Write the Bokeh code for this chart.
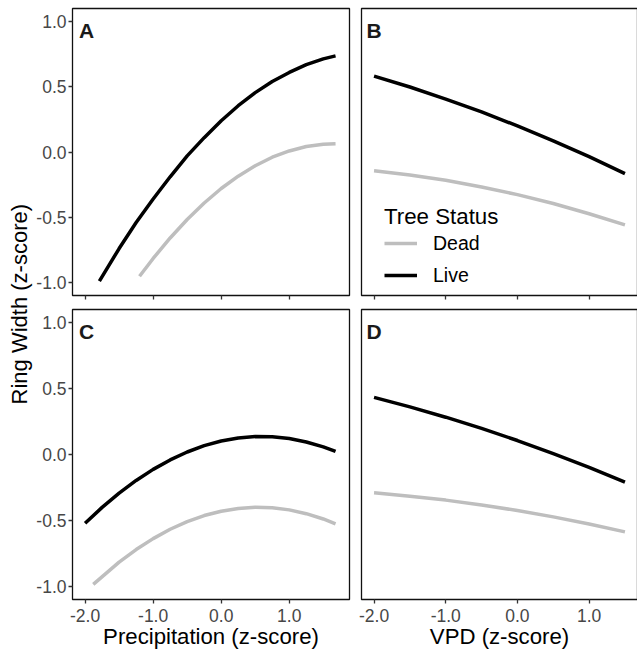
import math
from bokeh.plotting import figure
from bokeh.models import Range1d, FixedTicker, PrintfTickFormatter, Label, Legend, LegendItem
from bokeh.layouts import row, column
from bokeh.embed import file_html
from bokeh.resources import INLINE

FONT = "Liberation Sans"
LIVE_COLOR = "#000000"
DEAD_COLOR = "#BEBEBE"

# ---------------- data ----------------
status_labels = ["Dead", "Live"]
legend_title = "Tree Status"
panel_letters = ["A", "B", "C", "D"]

# Panel A: precipitation
A_live_x = [-1.79, -1.5, -1.25, -1.0, -0.75, -0.5, -0.25, 0.0, 0.25, 0.5, 0.75, 1.0, 1.25, 1.5, 1.68]
A_live_y = [-0.99, -0.74, -0.54, -0.36, -0.19, -0.03, 0.11, 0.24, 0.355, 0.455, 0.54, 0.61, 0.67, 0.714, 0.737]
A_dead_x = [-1.2, -1.0, -0.75, -0.5, -0.25, 0.0, 0.25, 0.5, 0.75, 1.0, 1.25, 1.5, 1.68]
A_dead_y = [-0.952, -0.816, -0.659, -0.517, -0.391, -0.28, -0.185, -0.105, -0.04, 0.008, 0.042, 0.06, 0.064]

# Panel B: VPD
B_x = [-2.0, -1.5, -1.0, -0.5, 0.0, 0.5, 1.0, 1.5]
B_live_y = [0.582, 0.498, 0.406, 0.307, 0.20, 0.086, -0.036, -0.166]
B_dead_y = [-0.143, -0.176, -0.217, -0.268, -0.327, -0.395, -0.473, -0.559]

# Panel C: precipitation
C_live_x = [-2.0, -1.75, -1.5, -1.25, -1.0, -0.75, -0.5, -0.25, 0.0, 0.25, 0.5, 0.75, 1.0, 1.25, 1.5, 1.68]
C_live_y = [-0.522, -0.401, -0.293, -0.197, -0.113, -0.041, 0.019, 0.067, 0.102, 0.125, 0.136, 0.135, 0.121, 0.095, 0.058, 0.023]
C_dead_x = [-1.88, -1.5, -1.25, -1.0, -0.75, -0.5, -0.25, 0.0, 0.25, 0.5, 0.75, 1.0, 1.25, 1.5, 1.68]
C_dead_y = [-0.985, -0.816, -0.721, -0.638, -0.567, -0.509, -0.463, -0.43, -0.409, -0.40, -0.404, -0.42, -0.449, -0.489, -0.526]

# Panel D: VPD
D_x = [-2.0, -1.5, -1.0, -0.5, 0.0, 0.5, 1.0, 1.5]
D_live_y = [0.433, 0.361, 0.283, 0.198, 0.106, 0.007, -0.098, -0.21]
D_dead_y = [-0.291, -0.316, -0.346, -0.383, -0.425, -0.473, -0.527, -0.587]

x_ticks = [-2.0, -1.0, 0.0, 1.0]
x_tick_labels = ["-2.0", "-1.0", "0.0", "1.0"]
y_ticks = [-1.0, -0.5, 0.0, 0.5, 1.0]
y_tick_labels = ["-1.0", "-0.5", "0.0", "0.5", "1.0"]

x_title_precip = "Precipitation (z-score)"
x_title_vpd = "VPD (z-score)"
y_title = "Ring Width (z-score)"

# ---------------- layout / styling ----------------
PRECIP_RANGE = (-2.185, 1.885)
VPD_RANGE = (-2.175, 1.675)
Y_RANGE = (-1.1, 1.1)
TOTAL_H = 650


def make_panel(xr, top_row, left_col, fw, fh, letter, letter_dx, xlabel=None):
    p = figure(frame_width=fw, frame_height=fh,
               x_range=Range1d(*xr), y_range=Range1d(*Y_RANGE),
               output_backend="svg", toolbar_location=None,
               x_axis_location="below",
               y_axis_location="left" if left_col else None,
               min_border_left=37 if left_col else 6,
               min_border_right=6 if left_col else 1,
               min_border_top=8 if top_row else 7,
               min_border_bottom=7 if top_row else 0,
               background_fill_color="white", border_fill_color="white")
    p.grid.grid_line_color = None
    p.outline_line_color = "#111111"
    p.outline_line_width = 1.3

    axes = list(p.xaxis)
    if left_col:
        axes += list(p.yaxis)
    for ax in axes:
        ax.axis_line_color = None
        ax.major_tick_out = 4
        ax.major_tick_in = 0
        ax.minor_tick_line_color = None
        ax.major_tick_line_color = "#333333"
        ax.major_tick_line_width = 1.3
        ax.major_label_text_font = FONT
        ax.major_label_text_font_size = "17.5px"
        ax.major_label_text_color = "#474747"
        ax.formatter = PrintfTickFormatter(format="%.1f")

    xa = p.xaxis[0]
    xa.ticker = FixedTicker(ticks=x_ticks)
    xa.major_label_overrides = {t: l for t, l in zip(x_ticks, x_tick_labels)}
    if top_row:
        # ticks only, no tick labels (as in the reference)
        xa.major_label_text_color = None
        xa.major_label_text_font_size = "1px"
        xa.major_label_standoff = 0
    else:
        xa.major_label_standoff = 5
        xa.axis_label = xlabel
        xa.axis_label_text_font = FONT
        xa.axis_label_text_font_size = "22.2px"
        xa.axis_label_text_font_style = "normal"
        xa.axis_label_text_color = "#000000"
        xa.axis_label_standoff = -1
    if left_col:
        ya = p.yaxis[0]
        ya.ticker = FixedTicker(ticks=y_ticks)
        ya.major_label_overrides = {t: l for t, l in zip(y_ticks, y_tick_labels)}
        ya.major_label_standoff = 2

    # panel letter
    lx = xr[0] + letter_dx * (xr[1] - xr[0]) / fw
    ly = Y_RANGE[1] - 22.0 * (Y_RANGE[1] - Y_RANGE[0]) / fh
    p.add_layout(Label(x=lx, y=ly, text=letter, text_font=FONT, text_font_size="21px",
                       text_font_style="bold", text_color="#1a1a1a",
                       text_align="left", text_baseline="alphabetic"))
    return p


pA = make_panel(PRECIP_RANGE, True, True, 277, 287, panel_letters[0], 6.5)
pB = make_panel(VPD_RANGE, True, False, 276, 287, panel_letters[1], 5.0)
pC = make_panel(PRECIP_RANGE, False, True, 277, 290, panel_letters[2], 6.5, x_title_precip)
pD = make_panel(VPD_RANGE, False, False, 276, 290, panel_letters[3], 5.0, x_title_vpd)

LW = 3.5
for p, lx_, ly_, dx_, dy_ in [
    (pA, A_live_x, A_live_y, A_dead_x, A_dead_y),
    (pC, C_live_x, C_live_y, C_dead_x, C_dead_y),
]:
    p.line(dx_, dy_, line_color=DEAD_COLOR, line_width=LW, line_join="round")
    p.line(lx_, ly_, line_color=LIVE_COLOR, line_width=LW, line_join="round")

rB_dead = pB.line(B_x, B_dead_y, line_color=DEAD_COLOR, line_width=LW, line_join="round")
rB_live = pB.line(B_x, B_live_y, line_color=LIVE_COLOR, line_width=LW, line_join="round")
pD.line(D_x, D_dead_y, line_color=DEAD_COLOR, line_width=LW, line_join="round")
pD.line(D_x, D_live_y, line_color=LIVE_COLOR, line_width=LW, line_join="round")

legend = Legend(items=[LegendItem(label=status_labels[0], renderers=[rB_dead]),
                       LegendItem(label=status_labels[1], renderers=[rB_live])],
                title=legend_title, location=(23, 7))
legend.title_text_font = FONT
legend.title_text_font_size = "22.3px"
legend.title_text_font_style = "normal"
legend.title_text_color = "#000000"
legend.title_standoff = 0
legend.label_text_font = FONT
legend.label_text_font_size = "19.5px"
legend.label_text_color = "#000000"
legend.glyph_width = 33
legend.glyph_height = 26
legend.label_standoff = 16
legend.spacing = 6
legend.padding = 0
legend.margin = 0
legend.border_line_color = None
legend.background_fill_alpha = 0
pB.add_layout(legend)

# shared y-axis title
ylab = figure(frame_width=33, frame_height=TOTAL_H, x_range=Range1d(0, 33), y_range=Range1d(0, TOTAL_H),
              min_border=0, output_backend="svg", toolbar_location=None,
              x_axis_location=None, y_axis_location=None, outline_line_color=None,
              background_fill_color="white", border_fill_color="white")
ylab.grid.grid_line_color = None
ylab.add_layout(Label(x=19.3, y=TOTAL_H - 303.7, text=y_title, angle=math.pi / 2,
                      text_align="center", text_baseline="middle",
                      text_font=FONT, text_font_size="22px", text_color="#000000"))

layout = row(ylab, column(row(pA, pB), row(pC, pD)))

open("out.html", "w").write(file_html(layout, INLINE, title="Ring width"))
